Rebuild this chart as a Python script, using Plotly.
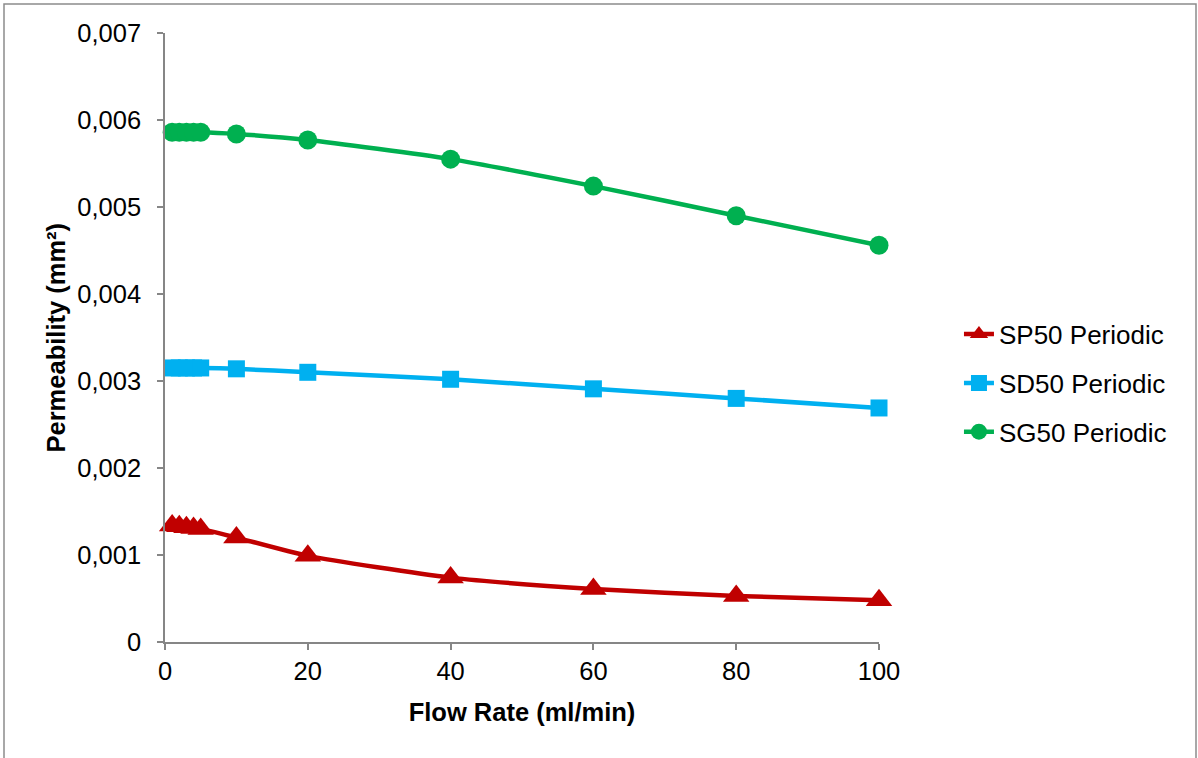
import plotly.graph_objects as go

flow_rate = [1, 2, 3, 4, 5, 10, 20, 40, 60, 80, 100]
sp50 = [0.00134, 0.00133, 0.00132, 0.00131, 0.00130, 0.00120, 0.00099, 0.00074, 0.00061, 0.00053, 0.00048]
sd50 = [0.00315, 0.00315, 0.00315, 0.00315, 0.00315, 0.00314, 0.00310, 0.00302, 0.00291, 0.00280, 0.00269]
sg50 = [0.00586, 0.00586, 0.00586, 0.00586, 0.00586, 0.00584, 0.00577, 0.00555, 0.00524, 0.00490, 0.00456]

y_tickvals = [0, 0.001, 0.002, 0.003, 0.004, 0.005, 0.006, 0.007]
y_ticktext = ["0", "0,001", "0,002", "0,003", "0,004", "0,005", "0,006", "0,007"]
x_tickvals = [0, 20, 40, 60, 80, 100]

series = [
    ("SP50 Periodic", sp50, "#C00000", "triangle-up", 23),
    ("SD50 Periodic", sd50, "#00B0F0", "square", 17),
    ("SG50 Periodic", sg50, "#00B050", "circle", 19),
]

FONT = "Liberation Sans, Arial, sans-serif"

fig = go.Figure()
for i, (name, ys, color, sym, size) in enumerate(series):
    fig.add_trace(go.Scatter(
        x=flow_rate, y=ys, name=name, mode="lines+markers",
        line=dict(color=color, width=4.5, shape="spline", smoothing=0.6),
        marker=dict(symbol=sym, size=size, color=color),
        legendgroup=f"g{i}", cliponaxis=False,
    ))

fig.update_layout(
    width=1198, height=758,
    margin=dict(l=165, r=319, t=33, b=116),
    paper_bgcolor="white", plot_bgcolor="white",
    font=dict(family=FONT, size=25.5, color="black"),
    showlegend=True,
    legend=dict(x=1.112, y=0.425, xanchor="left", yanchor="middle",
                font=dict(size=26), tracegroupgap=12, bgcolor="rgba(0,0,0,0)"),
    xaxis=dict(range=[0, 100], tickvals=x_tickvals, showgrid=False, zeroline=False,
               showline=True, linecolor="#868686", linewidth=1.5,
               ticks="outside", ticklen=6, tickcolor="#868686", tickwidth=1.5,
               ticklabelstandoff=0,
               title=dict(text="<b>Flow Rate (ml/min)</b>", font=dict(size=25.5), standoff=19)),
    yaxis=dict(range=[0, 0.007], tickvals=y_tickvals, ticktext=y_ticktext, showgrid=False,
               zeroline=False, showline=True, linecolor="#868686", linewidth=1.5,
               ticks="outside", ticklen=6, tickcolor="#868686", tickwidth=1.5,
               ticklabelstandoff=11),
    annotations=[dict(text="<b>Permeability (mm²)</b>", xref="paper", yref="paper",
                      x=(55 - 165) / 714, y=0.5, xanchor="center", yanchor="middle",
                      textangle=-90, showarrow=False, font=dict(size=25.5))],
    shapes=[dict(type="rect", xref="paper", yref="paper",
                 x0=(4 - 165) / 714, x1=(1196 - 165) / 714,
                 y0=(642 - 770) / 609, y1=1 + (33 - 4) / 609,
                 line=dict(color="#8C8C8C", width=1.5), fillcolor="rgba(0,0,0,0)", layer="below")],
)

fig.write_html("out.html")
